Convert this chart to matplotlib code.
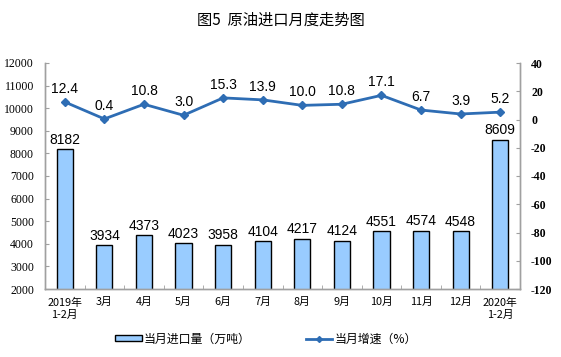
import matplotlib
matplotlib.use("Agg")
import matplotlib.pyplot as plt
from matplotlib.lines import Line2D
from matplotlib.patches import Patch
import numpy as np

plt.rcParams['font.family'] = ['Noto Sans CJK SC', 'DejaVu Sans']

categories = ["2019年\n1-2月", "3月", "4月", "5月", "6月", "7月", "8月", "9月", "10月", "11月", "12月", "2020年\n1-2月"]
volume = [8182, 3934, 4373, 4023, 3958, 4104, 4217, 4124, 4551, 4574, 4548, 8609]
growth = [12.4, 0.4, 10.8, 3.0, 15.3, 13.9, 10.0, 10.8, 17.1, 6.7, 3.9, 5.2]
left_ticks = list(range(2000, 12001, 1000))
right_ticks = list(range(-120, 41, 20))

fig = plt.figure(figsize=(5.61, 3.57), dpi=100)
ax = fig.add_axes([45/561, 1-289/357, 475/561, 226/357])
ax2 = ax.twinx()

x = np.arange(len(categories))
ax.bar(x, volume, width=0.41, color='#99CCFF', edgecolor='black', linewidth=1.0, zorder=2)
ax.set_ylim(2000, 12000)
ax.set_xlim(-0.5, len(categories)-0.5)
ax.set_yticks(left_ticks)
ax.set_yticklabels([str(t) for t in left_ticks], family='Liberation Serif', fontsize=8.5)
ax.set_xticks(x)
ax.set_xticklabels(categories, fontsize=7.8, linespacing=1.3)
ax.tick_params(axis='x', length=0, pad=6)
ax.set_xticks(np.arange(-0.5, len(categories), 1), minor=True)
ax.tick_params(axis='x', which='minor', direction='in', length=3, color='#A0A0A0')
ax.tick_params(axis='y', direction='in', length=3, color='#A0A0A0', pad=8)
for v, xi in zip(volume, x):
    ax.text(xi, v + 120, str(v), ha='center', va='bottom', fontsize=10, family='Liberation Sans')

ax2.plot(x, growth, color='#2E6DB4', linewidth=2, marker='D', markersize=4.2, zorder=3)
ax2.set_ylim(-120, 40)
ax2.set_yticks(right_ticks)
ax2.set_yticklabels([str(t) for t in right_ticks], family='Liberation Serif', fontsize=8.5, fontweight='bold')
ax2.tick_params(axis='y', direction='in', length=3, color='#A0A0A0', pad=8)
for g, xi in zip(growth, x):
    ax2.text(xi, g + 4.5, f"{g:.1f}", ha='center', va='bottom', fontsize=10, family='Liberation Sans')

for a in (ax, ax2):
    a.spines['top'].set_visible(False)
    for s in ('left', 'right', 'bottom'):
        a.spines[s].set_color('#A0A0A0')
        a.spines[s].set_linewidth(1.0)

fig.text(0.5, 1-20/357, "图5  原油进口月度走势图", ha='center', va='center', fontsize=11, fontweight='medium')

handles = [Patch(facecolor='#99CCFF', edgecolor='black', linewidth=1.0, label='当月进口量（万吨）'),
           Line2D([0], [0], color='#2E6DB4', linewidth=2, marker='D', markersize=3, label='当月增速（%）')]
fig.legend(handles=handles, loc='center', bbox_to_anchor=(266/561, 1-339/357), ncol=2, frameon=False,
           fontsize=8.6, columnspacing=4.6, handlelength=2.2, handletextpad=0.2, handleheight=0.35)

fig.savefig('out.png', dpi=100)
